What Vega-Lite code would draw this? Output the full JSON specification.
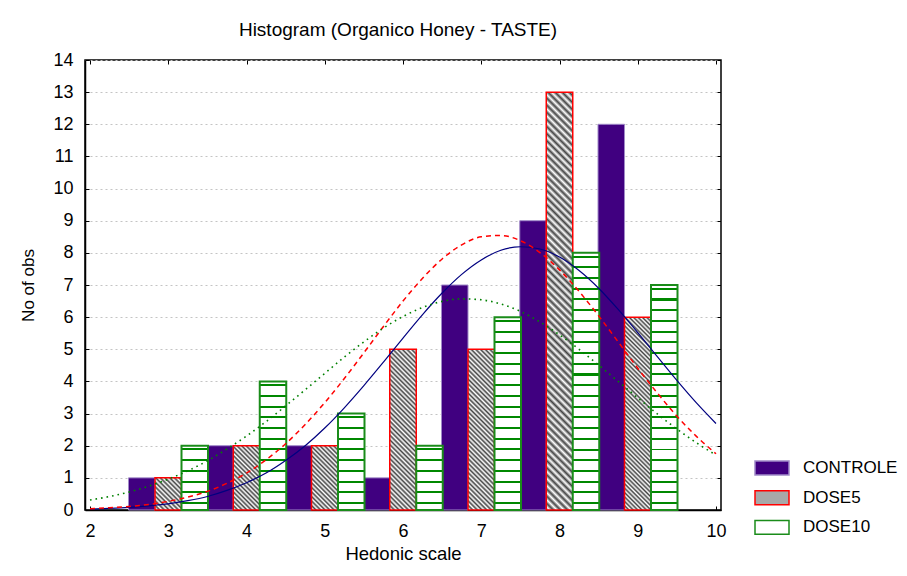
{
"$schema": "https://vega.github.io/schema/vega-lite/v6.json",
"width": 636, "height": 450,
"autosize": {"type": "none"},
"padding": {"left": 85, "top": 60, "right": 186, "bottom": 66},
"background": "#ffffff",
"title": {"text": "Histogram (Organico Honey - TASTE)", "font": "Liberation Sans", "fontSize": 19, "fontWeight": "normal", "color": "#000", "offset": 11, "dx": -5},
"config": {
  "view": {"stroke": "#000", "strokeWidth": 1.5},
  "axis": {"labelFont": "Liberation Sans", "labelFontSize": 18, "labelColor": "#000", "titleFont": "Liberation Sans", "titleFontSize": 17, "titleFontWeight": "normal", "titleColor": "#000", "tickColor": "#000", "domainColor": "#000", "domainWidth": 1.5}
},
"datasets": {
  "bars": [
    {"series": "CONTROLE", "score": 3, "count": 1},
    {"series": "CONTROLE", "score": 4, "count": 2},
    {"series": "CONTROLE", "score": 5, "count": 2},
    {"series": "CONTROLE", "score": 6, "count": 1},
    {"series": "CONTROLE", "score": 7, "count": 7},
    {"series": "CONTROLE", "score": 8, "count": 9},
    {"series": "CONTROLE", "score": 9, "count": 12},
    {"series": "DOSE5", "score": 3, "count": 1},
    {"series": "DOSE5", "score": 4, "count": 2},
    {"series": "DOSE5", "score": 5, "count": 2},
    {"series": "DOSE5", "score": 6, "count": 5},
    {"series": "DOSE5", "score": 7, "count": 5},
    {"series": "DOSE5", "score": 8, "count": 13},
    {"series": "DOSE5", "score": 9, "count": 6},
    {"series": "DOSE10", "score": 3, "count": 2},
    {"series": "DOSE10", "score": 4, "count": 4},
    {"series": "DOSE10", "score": 5, "count": 3},
    {"series": "DOSE10", "score": 6, "count": 2},
    {"series": "DOSE10", "score": 7, "count": 6},
    {"series": "DOSE10", "score": 8, "count": 8},
    {"series": "DOSE10", "score": 9, "count": 7}
  ],
  "ctrl": [
    {"x": 2, "y": 0.03}, {"x": 2.25, "y": 0.05}, {"x": 2.5, "y": 0.08}, {"x": 2.75, "y": 0.13}, {"x": 3, "y": 0.19}, {"x": 3.25, "y": 0.29}, {"x": 3.5, "y": 0.42}, {"x": 3.75, "y": 0.61}, {"x": 4, "y": 0.85}, {"x": 4.25, "y": 1.15}, {"x": 4.5, "y": 1.54}, {"x": 4.75, "y": 2.0}, {"x": 5, "y": 2.55}, {"x": 5.25, "y": 3.18}, {"x": 5.5, "y": 3.87}, {"x": 5.75, "y": 4.6}, {"x": 6, "y": 5.35}, {"x": 6.25, "y": 6.08}, {"x": 6.5, "y": 6.75}, {"x": 6.75, "y": 7.33}, {"x": 7, "y": 7.78}, {"x": 7.25, "y": 8.08}, {"x": 7.5, "y": 8.19}, {"x": 7.75, "y": 8.12}, {"x": 8, "y": 7.87}, {"x": 8.25, "y": 7.45}, {"x": 8.5, "y": 6.9}, {"x": 8.75, "y": 6.24}, {"x": 9, "y": 5.52}, {"x": 9.25, "y": 4.77}, {"x": 9.5, "y": 4.03}, {"x": 9.75, "y": 3.33}, {"x": 10, "y": 2.69}
  ],
  "d5": [
    {"x": 2, "y": 0.04}, {"x": 2.25, "y": 0.07}, {"x": 2.5, "y": 0.11}, {"x": 2.75, "y": 0.17}, {"x": 3, "y": 0.27}, {"x": 3.25, "y": 0.4}, {"x": 3.5, "y": 0.58}, {"x": 3.75, "y": 0.83}, {"x": 4, "y": 1.15}, {"x": 4.25, "y": 1.56}, {"x": 4.5, "y": 2.06}, {"x": 4.75, "y": 2.66}, {"x": 5, "y": 3.34}, {"x": 5.25, "y": 4.09}, {"x": 5.5, "y": 4.89}, {"x": 5.75, "y": 5.71}, {"x": 6, "y": 6.5}, {"x": 6.25, "y": 7.21}, {"x": 6.5, "y": 7.81}, {"x": 6.75, "y": 8.25}, {"x": 7, "y": 8.5}, {"x": 7.25, "y": 8.54}, {"x": 7.5, "y": 8.38}, {"x": 7.75, "y": 8.01}, {"x": 8, "y": 7.47}, {"x": 8.25, "y": 6.8}, {"x": 8.5, "y": 6.04}, {"x": 8.75, "y": 5.23}, {"x": 9, "y": 4.41}, {"x": 9.25, "y": 3.64}, {"x": 9.5, "y": 2.92}, {"x": 9.75, "y": 2.29}, {"x": 10, "y": 1.75}
  ],
  "d10": [
    {"x": 2, "y": 0.31}, {"x": 2.25, "y": 0.42}, {"x": 2.5, "y": 0.56}, {"x": 2.75, "y": 0.74}, {"x": 3, "y": 0.96}, {"x": 3.25, "y": 1.22}, {"x": 3.5, "y": 1.53}, {"x": 3.75, "y": 1.9}, {"x": 4, "y": 2.3}, {"x": 4.25, "y": 2.75}, {"x": 4.5, "y": 3.24}, {"x": 4.75, "y": 3.74}, {"x": 5, "y": 4.25}, {"x": 5.25, "y": 4.76}, {"x": 5.5, "y": 5.23}, {"x": 5.75, "y": 5.66}, {"x": 6, "y": 6.02}, {"x": 6.25, "y": 6.3}, {"x": 6.5, "y": 6.49}, {"x": 6.75, "y": 6.57}, {"x": 7, "y": 6.54}, {"x": 7.25, "y": 6.41}, {"x": 7.5, "y": 6.18}, {"x": 7.75, "y": 5.85}, {"x": 8, "y": 5.45}, {"x": 8.25, "y": 5.0}, {"x": 8.5, "y": 4.51}, {"x": 8.75, "y": 4.0}, {"x": 9, "y": 3.49}, {"x": 9.25, "y": 2.99}, {"x": 9.5, "y": 2.52}, {"x": 9.75, "y": 2.09}, {"x": 10, "y": 1.71}
  ]
},
"resolve": {"axis": {"x": "independent", "y": "independent"}},
"layer": [
  {
    "data": {"name": "bars"},
    "transform": [{"filter": "datum.series === 'CONTROLE'"}],
    "mark": {"type": "bar", "orient": "vertical", "width": 26.5, "xOffset": -26.5, "strokeWidth": 1},
    "encoding": {
      "x": {"field": "score", "type": "quantitative", "scale": {"domain": [2, 10], "nice": false, "zero": false},
            "axis": {"orient": "bottom", "values": [2, 3, 4, 5, 6, 7, 8, 9, 10], "title": "Hedonic scale", "titleFontSize": 18.5, "grid": false, "tickSize": -4, "labelPadding": 16, "titlePadding": 4, "labelFlush": false}},
      "y": {"field": "count", "type": "quantitative", "stack": null, "scale": {"domain": [0, 14], "nice": false},
            "axis": {"orient": "left", "values": [0, 1, 2, 3, 4, 5, 6, 7, 8, 9, 10, 11, 12, 13, 14], "title": "No of obs", "grid": true, "gridDash": [2, 3], "gridColor": "#c4c4c4", "tickSize": -4, "labelPadding": 16, "titlePadding": 15, "labelFlush": false}},
      "fill": {"field": "series", "type": "nominal", "scale": {"domain": ["CONTROLE", "DOSE5", "DOSE10"], "range": ["#400080", "#a8a8a8", "#ffffff"]},
               "legend": {"title": null, "orient": "none", "legendX": 677.5, "legendY": 398.5, "symbolType": "M-2,-0.82H2V0.82H-2Z", "symbolSize": 289, "symbolStrokeWidth": 1.5, "labelFont": "Liberation Sans", "labelFontSize": 17, "labelColor": "#000", "rowPadding": 8.7, "labelOffset": 21.5, "padding": 0}},
      "stroke": {"field": "series", "type": "nominal", "scale": {"domain": ["CONTROLE", "DOSE5", "DOSE10"], "range": ["#a08ac8", "#ff0000", "#1a8c1a"]},
               "legend": {"title": null, "orient": "none", "legendX": 677.5, "legendY": 398.5, "symbolType": "M-2,-0.82H2V0.82H-2Z", "symbolSize": 289, "symbolStrokeWidth": 1.5, "labelFont": "Liberation Sans", "labelFontSize": 17, "labelColor": "#000", "rowPadding": 8.7, "labelOffset": 21.5, "padding": 0}}
    }
  },
  {
    "data": {"name": "bars"},
    "transform": [{"filter": "datum.series === 'DOSE5'"}],
    "mark": {"type": "bar", "orient": "vertical", "width": 26.5, "xOffset": 0, "strokeWidth": 1.5},
    "encoding": {
      "x": {"field": "score", "type": "quantitative", "axis": null},
      "y": {"field": "count", "type": "quantitative", "stack": null, "axis": null},
      "fill": {"condition": [
        {"test": "datum.count == 1", "value": {"gradient": "linear", "x1": 0, "y1": 1, "x2": 0.8955, "y2": -0.0862, "stops": [{"offset":0,"color":"#444"},{"offset":0.04,"color":"#fff"},{"offset":0.08,"color":"#444"},{"offset":0.12,"color":"#fff"},{"offset":0.16,"color":"#444"},{"offset":0.2,"color":"#fff"},{"offset":0.24,"color":"#444"},{"offset":0.28,"color":"#fff"},{"offset":0.32,"color":"#444"},{"offset":0.36,"color":"#fff"},{"offset":0.4,"color":"#444"},{"offset":0.44,"color":"#fff"},{"offset":0.48,"color":"#444"},{"offset":0.52,"color":"#fff"},{"offset":0.56,"color":"#444"},{"offset":0.6,"color":"#fff"},{"offset":0.64,"color":"#444"},{"offset":0.68,"color":"#fff"},{"offset":0.72,"color":"#444"},{"offset":0.76,"color":"#fff"},{"offset":0.8,"color":"#444"},{"offset":0.84,"color":"#fff"},{"offset":0.88,"color":"#444"},{"offset":0.92,"color":"#fff"},{"offset":0.96,"color":"#444"},{"offset":1,"color":"#fff"}]}},
        {"test": "datum.count == 2", "value": {"gradient": "linear", "x1": 0, "y1": 1, "x2": 0.4976, "y2": -0.2072, "stops": [{"offset":0,"color":"#444"},{"offset":0.025,"color":"#fff"},{"offset":0.05,"color":"#444"},{"offset":0.075,"color":"#fff"},{"offset":0.1,"color":"#444"},{"offset":0.125,"color":"#fff"},{"offset":0.15,"color":"#444"},{"offset":0.175,"color":"#fff"},{"offset":0.2,"color":"#444"},{"offset":0.225,"color":"#fff"},{"offset":0.25,"color":"#444"},{"offset":0.275,"color":"#fff"},{"offset":0.3,"color":"#444"},{"offset":0.325,"color":"#fff"},{"offset":0.35,"color":"#444"},{"offset":0.375,"color":"#fff"},{"offset":0.4,"color":"#444"},{"offset":0.425,"color":"#fff"},{"offset":0.45,"color":"#444"},{"offset":0.475,"color":"#fff"},{"offset":0.5,"color":"#444"},{"offset":0.525,"color":"#fff"},{"offset":0.55,"color":"#444"},{"offset":0.575,"color":"#fff"},{"offset":0.6,"color":"#444"},{"offset":0.625,"color":"#fff"},{"offset":0.65,"color":"#444"},{"offset":0.675,"color":"#fff"},{"offset":0.7,"color":"#444"},{"offset":0.725,"color":"#fff"},{"offset":0.75,"color":"#444"},{"offset":0.775,"color":"#fff"},{"offset":0.8,"color":"#444"},{"offset":0.825,"color":"#fff"},{"offset":0.85,"color":"#444"},{"offset":0.875,"color":"#fff"},{"offset":0.9,"color":"#444"},{"offset":0.925,"color":"#fff"},{"offset":0.95,"color":"#444"},{"offset":0.975,"color":"#fff"},{"offset":1,"color":"#444"}]}},
        {"test": "datum.count == 5", "value": {"gradient": "linear", "x1": 0, "y1": 1, "x2": 0.187, "y2": -0.134, "stops": [{"offset":0,"color":"#444"},{"offset":0.0125,"color":"#fff"},{"offset":0.025,"color":"#444"},{"offset":0.0375,"color":"#fff"},{"offset":0.05,"color":"#444"},{"offset":0.0625,"color":"#fff"},{"offset":0.075,"color":"#444"},{"offset":0.0875,"color":"#fff"},{"offset":0.1,"color":"#444"},{"offset":0.1125,"color":"#fff"},{"offset":0.125,"color":"#444"},{"offset":0.1375,"color":"#fff"},{"offset":0.15,"color":"#444"},{"offset":0.1625,"color":"#fff"},{"offset":0.175,"color":"#444"},{"offset":0.1875,"color":"#fff"},{"offset":0.2,"color":"#444"},{"offset":0.2125,"color":"#fff"},{"offset":0.225,"color":"#444"},{"offset":0.2375,"color":"#fff"},{"offset":0.25,"color":"#444"},{"offset":0.2625,"color":"#fff"},{"offset":0.275,"color":"#444"},{"offset":0.2875,"color":"#fff"},{"offset":0.3,"color":"#444"},{"offset":0.3125,"color":"#fff"},{"offset":0.325,"color":"#444"},{"offset":0.3375,"color":"#fff"},{"offset":0.35,"color":"#444"},{"offset":0.3625,"color":"#fff"},{"offset":0.375,"color":"#444"},{"offset":0.3875,"color":"#fff"},{"offset":0.4,"color":"#444"},{"offset":0.4125,"color":"#fff"},{"offset":0.425,"color":"#444"},{"offset":0.4375,"color":"#fff"},{"offset":0.45,"color":"#444"},{"offset":0.4625,"color":"#fff"},{"offset":0.475,"color":"#444"},{"offset":0.4875,"color":"#fff"},{"offset":0.5,"color":"#444"},{"offset":0.5125,"color":"#fff"},{"offset":0.525,"color":"#444"},{"offset":0.5375,"color":"#fff"},{"offset":0.55,"color":"#444"},{"offset":0.5625,"color":"#fff"},{"offset":0.575,"color":"#444"},{"offset":0.5875,"color":"#fff"},{"offset":0.6,"color":"#444"},{"offset":0.6125,"color":"#fff"},{"offset":0.625,"color":"#444"},{"offset":0.6375,"color":"#fff"},{"offset":0.65,"color":"#444"},{"offset":0.6625,"color":"#fff"},{"offset":0.675,"color":"#444"},{"offset":0.6875,"color":"#fff"},{"offset":0.7,"color":"#444"},{"offset":0.7125,"color":"#fff"},{"offset":0.725,"color":"#444"},{"offset":0.7375,"color":"#fff"},{"offset":0.75,"color":"#444"},{"offset":0.7625,"color":"#fff"},{"offset":0.775,"color":"#444"},{"offset":0.7875,"color":"#fff"},{"offset":0.8,"color":"#444"},{"offset":0.8125,"color":"#fff"},{"offset":0.825,"color":"#444"},{"offset":0.8375,"color":"#fff"},{"offset":0.85,"color":"#444"},{"offset":0.8625,"color":"#fff"},{"offset":0.875,"color":"#444"},{"offset":0.8875,"color":"#fff"},{"offset":0.9,"color":"#444"},{"offset":0.9125,"color":"#fff"},{"offset":0.925,"color":"#444"},{"offset":0.9375,"color":"#fff"},{"offset":0.95,"color":"#444"},{"offset":0.9625,"color":"#fff"},{"offset":0.975,"color":"#444"},{"offset":0.9875,"color":"#fff"},{"offset":1,"color":"#444"}]}},
        {"test": "datum.count == 6", "value": {"gradient": "linear", "x1": 0, "y1": 1, "x2": 0.1534, "y2": -0.1163, "stops": [{"offset":0,"color":"#444"},{"offset":0.01,"color":"#fff"},{"offset":0.02,"color":"#444"},{"offset":0.03,"color":"#fff"},{"offset":0.04,"color":"#444"},{"offset":0.05,"color":"#fff"},{"offset":0.06,"color":"#444"},{"offset":0.07,"color":"#fff"},{"offset":0.08,"color":"#444"},{"offset":0.09,"color":"#fff"},{"offset":0.1,"color":"#444"},{"offset":0.11,"color":"#fff"},{"offset":0.12,"color":"#444"},{"offset":0.13,"color":"#fff"},{"offset":0.14,"color":"#444"},{"offset":0.15,"color":"#fff"},{"offset":0.16,"color":"#444"},{"offset":0.17,"color":"#fff"},{"offset":0.18,"color":"#444"},{"offset":0.19,"color":"#fff"},{"offset":0.2,"color":"#444"},{"offset":0.21,"color":"#fff"},{"offset":0.22,"color":"#444"},{"offset":0.23,"color":"#fff"},{"offset":0.24,"color":"#444"},{"offset":0.25,"color":"#fff"},{"offset":0.26,"color":"#444"},{"offset":0.27,"color":"#fff"},{"offset":0.28,"color":"#444"},{"offset":0.29,"color":"#fff"},{"offset":0.3,"color":"#444"},{"offset":0.31,"color":"#fff"},{"offset":0.32,"color":"#444"},{"offset":0.33,"color":"#fff"},{"offset":0.34,"color":"#444"},{"offset":0.35,"color":"#fff"},{"offset":0.36,"color":"#444"},{"offset":0.37,"color":"#fff"},{"offset":0.38,"color":"#444"},{"offset":0.39,"color":"#fff"},{"offset":0.4,"color":"#444"},{"offset":0.41,"color":"#fff"},{"offset":0.42,"color":"#444"},{"offset":0.43,"color":"#fff"},{"offset":0.44,"color":"#444"},{"offset":0.45,"color":"#fff"},{"offset":0.46,"color":"#444"},{"offset":0.47,"color":"#fff"},{"offset":0.48,"color":"#444"},{"offset":0.49,"color":"#fff"},{"offset":0.5,"color":"#444"},{"offset":0.51,"color":"#fff"},{"offset":0.52,"color":"#444"},{"offset":0.53,"color":"#fff"},{"offset":0.54,"color":"#444"},{"offset":0.55,"color":"#fff"},{"offset":0.56,"color":"#444"},{"offset":0.57,"color":"#fff"},{"offset":0.58,"color":"#444"},{"offset":0.59,"color":"#fff"},{"offset":0.6,"color":"#444"},{"offset":0.61,"color":"#fff"},{"offset":0.62,"color":"#444"},{"offset":0.63,"color":"#fff"},{"offset":0.64,"color":"#444"},{"offset":0.65,"color":"#fff"},{"offset":0.66,"color":"#444"},{"offset":0.67,"color":"#fff"},{"offset":0.68,"color":"#444"},{"offset":0.69,"color":"#fff"},{"offset":0.7,"color":"#444"},{"offset":0.71,"color":"#fff"},{"offset":0.72,"color":"#444"},{"offset":0.73,"color":"#fff"},{"offset":0.74,"color":"#444"},{"offset":0.75,"color":"#fff"},{"offset":0.76,"color":"#444"},{"offset":0.77,"color":"#fff"},{"offset":0.78,"color":"#444"},{"offset":0.79,"color":"#fff"},{"offset":0.8,"color":"#444"},{"offset":0.81,"color":"#fff"},{"offset":0.82,"color":"#444"},{"offset":0.83,"color":"#fff"},{"offset":0.84,"color":"#444"},{"offset":0.85,"color":"#fff"},{"offset":0.86,"color":"#444"},{"offset":0.87,"color":"#fff"},{"offset":0.88,"color":"#444"},{"offset":0.89,"color":"#fff"},{"offset":0.9,"color":"#444"},{"offset":0.91,"color":"#fff"},{"offset":0.92,"color":"#444"},{"offset":0.93,"color":"#fff"},{"offset":0.94,"color":"#444"},{"offset":0.95,"color":"#fff"},{"offset":0.96,"color":"#444"},{"offset":0.97,"color":"#fff"},{"offset":0.98,"color":"#444"},{"offset":0.99,"color":"#fff"},{"offset":1,"color":"#444"}]}},
        {"test": "datum.count == 13", "value": {"gradient": "linear", "x1": 0, "y1": 1, "x2": 0.0672, "y2": -0.0592, "stops": [{"offset":0,"color":"#444"},{"offset":0.008,"color":"#fff"},{"offset":0.016,"color":"#444"},{"offset":0.024,"color":"#fff"},{"offset":0.032,"color":"#444"},{"offset":0.04,"color":"#fff"},{"offset":0.048,"color":"#444"},{"offset":0.056,"color":"#fff"},{"offset":0.064,"color":"#444"},{"offset":0.072,"color":"#fff"},{"offset":0.08,"color":"#444"},{"offset":0.088,"color":"#fff"},{"offset":0.096,"color":"#444"},{"offset":0.104,"color":"#fff"},{"offset":0.112,"color":"#444"},{"offset":0.12,"color":"#fff"},{"offset":0.128,"color":"#444"},{"offset":0.136,"color":"#fff"},{"offset":0.144,"color":"#444"},{"offset":0.152,"color":"#fff"},{"offset":0.16,"color":"#444"},{"offset":0.168,"color":"#fff"},{"offset":0.176,"color":"#444"},{"offset":0.184,"color":"#fff"},{"offset":0.192,"color":"#444"},{"offset":0.2,"color":"#fff"},{"offset":0.208,"color":"#444"},{"offset":0.216,"color":"#fff"},{"offset":0.224,"color":"#444"},{"offset":0.232,"color":"#fff"},{"offset":0.24,"color":"#444"},{"offset":0.248,"color":"#fff"},{"offset":0.256,"color":"#444"},{"offset":0.264,"color":"#fff"},{"offset":0.272,"color":"#444"},{"offset":0.28,"color":"#fff"},{"offset":0.288,"color":"#444"},{"offset":0.296,"color":"#fff"},{"offset":0.304,"color":"#444"},{"offset":0.312,"color":"#fff"},{"offset":0.32,"color":"#444"},{"offset":0.328,"color":"#fff"},{"offset":0.336,"color":"#444"},{"offset":0.344,"color":"#fff"},{"offset":0.352,"color":"#444"},{"offset":0.36,"color":"#fff"},{"offset":0.368,"color":"#444"},{"offset":0.376,"color":"#fff"},{"offset":0.384,"color":"#444"},{"offset":0.392,"color":"#fff"},{"offset":0.4,"color":"#444"},{"offset":0.408,"color":"#fff"},{"offset":0.416,"color":"#444"},{"offset":0.424,"color":"#fff"},{"offset":0.432,"color":"#444"},{"offset":0.44,"color":"#fff"},{"offset":0.448,"color":"#444"},{"offset":0.456,"color":"#fff"},{"offset":0.464,"color":"#444"},{"offset":0.472,"color":"#fff"},{"offset":0.48,"color":"#444"},{"offset":0.488,"color":"#fff"},{"offset":0.496,"color":"#444"},{"offset":0.504,"color":"#fff"},{"offset":0.512,"color":"#444"},{"offset":0.52,"color":"#fff"},{"offset":0.528,"color":"#444"},{"offset":0.536,"color":"#fff"},{"offset":0.544,"color":"#444"},{"offset":0.552,"color":"#fff"},{"offset":0.56,"color":"#444"},{"offset":0.568,"color":"#fff"},{"offset":0.576,"color":"#444"},{"offset":0.584,"color":"#fff"},{"offset":0.592,"color":"#444"},{"offset":0.6,"color":"#fff"},{"offset":0.608,"color":"#444"},{"offset":0.616,"color":"#fff"},{"offset":0.624,"color":"#444"},{"offset":0.632,"color":"#fff"},{"offset":0.64,"color":"#444"},{"offset":0.648,"color":"#fff"},{"offset":0.656,"color":"#444"},{"offset":0.664,"color":"#fff"},{"offset":0.672,"color":"#444"},{"offset":0.68,"color":"#fff"},{"offset":0.688,"color":"#444"},{"offset":0.696,"color":"#fff"},{"offset":0.704,"color":"#444"},{"offset":0.712,"color":"#fff"},{"offset":0.72,"color":"#444"},{"offset":0.728,"color":"#fff"},{"offset":0.736,"color":"#444"},{"offset":0.744,"color":"#fff"},{"offset":0.752,"color":"#444"},{"offset":0.76,"color":"#fff"},{"offset":0.768,"color":"#444"},{"offset":0.776,"color":"#fff"},{"offset":0.784,"color":"#444"},{"offset":0.792,"color":"#fff"},{"offset":0.8,"color":"#444"},{"offset":0.808,"color":"#fff"},{"offset":0.816,"color":"#444"},{"offset":0.824,"color":"#fff"},{"offset":0.832,"color":"#444"},{"offset":0.84,"color":"#fff"},{"offset":0.848,"color":"#444"},{"offset":0.856,"color":"#fff"},{"offset":0.864,"color":"#444"},{"offset":0.872,"color":"#fff"},{"offset":0.88,"color":"#444"},{"offset":0.888,"color":"#fff"},{"offset":0.896,"color":"#444"},{"offset":0.904,"color":"#fff"},{"offset":0.912,"color":"#444"},{"offset":0.92,"color":"#fff"},{"offset":0.928,"color":"#444"},{"offset":0.936,"color":"#fff"},{"offset":0.944,"color":"#444"},{"offset":0.952,"color":"#fff"},{"offset":0.96,"color":"#444"},{"offset":0.968,"color":"#fff"},{"offset":0.976,"color":"#444"},{"offset":0.984,"color":"#fff"},{"offset":0.992,"color":"#444"},{"offset":1,"color":"#fff"}]}}
      ], "field": "series", "type": "nominal"},
      "stroke": {"field": "series", "type": "nominal"}
    }
  },
  {
    "data": {"name": "bars"},
    "transform": [{"filter": "datum.series === 'DOSE10'"}],
    "mark": {"type": "bar", "orient": "vertical", "width": 26.5, "xOffset": 26.5, "strokeWidth": 2},
    "encoding": {
      "x": {"field": "score", "type": "quantitative", "axis": null},
      "y": {"field": "count", "type": "quantitative", "stack": null, "axis": null},
      "fill": {"condition": [
        {"test": "datum.count == 2", "value": {"gradient": "linear", "x1": 0, "y1": 1, "x2": 0, "y2": 0, "stops": [{"offset":0.092,"color":"#fff"},{"offset":0.092,"color":"#080"},{"offset":0.124,"color":"#080"},{"offset":0.124,"color":"#fff"},{"offset":0.259,"color":"#fff"},{"offset":0.259,"color":"#080"},{"offset":0.291,"color":"#080"},{"offset":0.291,"color":"#fff"},{"offset":0.426,"color":"#fff"},{"offset":0.426,"color":"#080"},{"offset":0.458,"color":"#080"},{"offset":0.458,"color":"#fff"},{"offset":0.592,"color":"#fff"},{"offset":0.592,"color":"#080"},{"offset":0.624,"color":"#080"},{"offset":0.624,"color":"#fff"},{"offset":0.759,"color":"#fff"},{"offset":0.759,"color":"#080"},{"offset":0.791,"color":"#080"},{"offset":0.791,"color":"#fff"},{"offset":0.926,"color":"#fff"},{"offset":0.926,"color":"#080"},{"offset":0.958,"color":"#080"},{"offset":0.958,"color":"#fff"}]}},
        {"test": "datum.count == 3", "value": {"gradient": "linear", "x1": 0, "y1": 1, "x2": 0, "y2": 0, "stops": [{"offset":0.062,"color":"#fff"},{"offset":0.062,"color":"#080"},{"offset":0.082,"color":"#080"},{"offset":0.082,"color":"#fff"},{"offset":0.173,"color":"#fff"},{"offset":0.173,"color":"#080"},{"offset":0.193,"color":"#080"},{"offset":0.193,"color":"#fff"},{"offset":0.284,"color":"#fff"},{"offset":0.284,"color":"#080"},{"offset":0.304,"color":"#080"},{"offset":0.304,"color":"#fff"},{"offset":0.396,"color":"#fff"},{"offset":0.396,"color":"#080"},{"offset":0.416,"color":"#080"},{"offset":0.416,"color":"#fff"},{"offset":0.507,"color":"#fff"},{"offset":0.507,"color":"#080"},{"offset":0.527,"color":"#080"},{"offset":0.527,"color":"#fff"},{"offset":0.618,"color":"#fff"},{"offset":0.618,"color":"#080"},{"offset":0.638,"color":"#080"},{"offset":0.638,"color":"#fff"},{"offset":0.729,"color":"#fff"},{"offset":0.729,"color":"#080"},{"offset":0.749,"color":"#080"},{"offset":0.749,"color":"#fff"},{"offset":0.84,"color":"#fff"},{"offset":0.84,"color":"#080"},{"offset":0.86,"color":"#080"},{"offset":0.86,"color":"#fff"},{"offset":0.951,"color":"#fff"},{"offset":0.951,"color":"#080"},{"offset":0.971,"color":"#080"},{"offset":0.971,"color":"#fff"}]}},
        {"test": "datum.count == 4", "value": {"gradient": "linear", "x1": 0, "y1": 1, "x2": 0, "y2": 0, "stops": [{"offset":0.046,"color":"#fff"},{"offset":0.046,"color":"#080"},{"offset":0.062,"color":"#080"},{"offset":0.062,"color":"#fff"},{"offset":0.13,"color":"#fff"},{"offset":0.13,"color":"#080"},{"offset":0.146,"color":"#080"},{"offset":0.146,"color":"#fff"},{"offset":0.213,"color":"#fff"},{"offset":0.213,"color":"#080"},{"offset":0.229,"color":"#080"},{"offset":0.229,"color":"#fff"},{"offset":0.296,"color":"#fff"},{"offset":0.296,"color":"#080"},{"offset":0.312,"color":"#080"},{"offset":0.312,"color":"#fff"},{"offset":0.38,"color":"#fff"},{"offset":0.38,"color":"#080"},{"offset":0.396,"color":"#080"},{"offset":0.396,"color":"#fff"},{"offset":0.463,"color":"#fff"},{"offset":0.463,"color":"#080"},{"offset":0.479,"color":"#080"},{"offset":0.479,"color":"#fff"},{"offset":0.546,"color":"#fff"},{"offset":0.546,"color":"#080"},{"offset":0.562,"color":"#080"},{"offset":0.562,"color":"#fff"},{"offset":0.63,"color":"#fff"},{"offset":0.63,"color":"#080"},{"offset":0.646,"color":"#080"},{"offset":0.646,"color":"#fff"},{"offset":0.713,"color":"#fff"},{"offset":0.713,"color":"#080"},{"offset":0.729,"color":"#080"},{"offset":0.729,"color":"#fff"},{"offset":0.796,"color":"#fff"},{"offset":0.796,"color":"#080"},{"offset":0.812,"color":"#080"},{"offset":0.812,"color":"#fff"},{"offset":0.88,"color":"#fff"},{"offset":0.88,"color":"#080"},{"offset":0.896,"color":"#080"},{"offset":0.896,"color":"#fff"},{"offset":0.963,"color":"#fff"},{"offset":0.963,"color":"#080"},{"offset":0.979,"color":"#080"},{"offset":0.979,"color":"#fff"}]}},
        {"test": "datum.count == 6", "value": {"gradient": "linear", "x1": 0, "y1": 1, "x2": 0, "y2": 0, "stops": [{"offset":0.031,"color":"#fff"},{"offset":0.031,"color":"#080"},{"offset":0.041,"color":"#080"},{"offset":0.041,"color":"#fff"},{"offset":0.087,"color":"#fff"},{"offset":0.087,"color":"#080"},{"offset":0.097,"color":"#080"},{"offset":0.097,"color":"#fff"},{"offset":0.142,"color":"#fff"},{"offset":0.142,"color":"#080"},{"offset":0.152,"color":"#080"},{"offset":0.152,"color":"#fff"},{"offset":0.198,"color":"#fff"},{"offset":0.198,"color":"#080"},{"offset":0.208,"color":"#080"},{"offset":0.208,"color":"#fff"},{"offset":0.253,"color":"#fff"},{"offset":0.253,"color":"#080"},{"offset":0.263,"color":"#080"},{"offset":0.263,"color":"#fff"},{"offset":0.309,"color":"#fff"},{"offset":0.309,"color":"#080"},{"offset":0.319,"color":"#080"},{"offset":0.319,"color":"#fff"},{"offset":0.364,"color":"#fff"},{"offset":0.364,"color":"#080"},{"offset":0.374,"color":"#080"},{"offset":0.374,"color":"#fff"},{"offset":0.42,"color":"#fff"},{"offset":0.42,"color":"#080"},{"offset":0.43,"color":"#080"},{"offset":0.43,"color":"#fff"},{"offset":0.476,"color":"#fff"},{"offset":0.476,"color":"#080"},{"offset":0.486,"color":"#080"},{"offset":0.486,"color":"#fff"},{"offset":0.531,"color":"#fff"},{"offset":0.531,"color":"#080"},{"offset":0.541,"color":"#080"},{"offset":0.541,"color":"#fff"},{"offset":0.587,"color":"#fff"},{"offset":0.587,"color":"#080"},{"offset":0.597,"color":"#080"},{"offset":0.597,"color":"#fff"},{"offset":0.642,"color":"#fff"},{"offset":0.642,"color":"#080"},{"offset":0.652,"color":"#080"},{"offset":0.652,"color":"#fff"},{"offset":0.698,"color":"#fff"},{"offset":0.698,"color":"#080"},{"offset":0.708,"color":"#080"},{"offset":0.708,"color":"#fff"},{"offset":0.753,"color":"#fff"},{"offset":0.753,"color":"#080"},{"offset":0.763,"color":"#080"},{"offset":0.763,"color":"#fff"},{"offset":0.809,"color":"#fff"},{"offset":0.809,"color":"#080"},{"offset":0.819,"color":"#080"},{"offset":0.819,"color":"#fff"},{"offset":0.864,"color":"#fff"},{"offset":0.864,"color":"#080"},{"offset":0.874,"color":"#080"},{"offset":0.874,"color":"#fff"},{"offset":0.92,"color":"#fff"},{"offset":0.92,"color":"#080"},{"offset":0.93,"color":"#080"},{"offset":0.93,"color":"#fff"},{"offset":0.976,"color":"#fff"},{"offset":0.976,"color":"#080"},{"offset":0.986,"color":"#080"},{"offset":0.986,"color":"#fff"}]}},
        {"test": "datum.count == 7", "value": {"gradient": "linear", "x1": 0, "y1": 1, "x2": 0, "y2": 0, "stops": [{"offset":0.027,"color":"#fff"},{"offset":0.027,"color":"#080"},{"offset":0.035,"color":"#080"},{"offset":0.035,"color":"#fff"},{"offset":0.074,"color":"#fff"},{"offset":0.074,"color":"#080"},{"offset":0.083,"color":"#080"},{"offset":0.083,"color":"#fff"},{"offset":0.122,"color":"#fff"},{"offset":0.122,"color":"#080"},{"offset":0.131,"color":"#080"},{"offset":0.131,"color":"#fff"},{"offset":0.169,"color":"#fff"},{"offset":0.169,"color":"#080"},{"offset":0.178,"color":"#080"},{"offset":0.178,"color":"#fff"},{"offset":0.217,"color":"#fff"},{"offset":0.217,"color":"#080"},{"offset":0.226,"color":"#080"},{"offset":0.226,"color":"#fff"},{"offset":0.265,"color":"#fff"},{"offset":0.265,"color":"#080"},{"offset":0.273,"color":"#080"},{"offset":0.273,"color":"#fff"},{"offset":0.312,"color":"#fff"},{"offset":0.312,"color":"#080"},{"offset":0.321,"color":"#080"},{"offset":0.321,"color":"#fff"},{"offset":0.36,"color":"#fff"},{"offset":0.36,"color":"#080"},{"offset":0.369,"color":"#080"},{"offset":0.369,"color":"#fff"},{"offset":0.407,"color":"#fff"},{"offset":0.407,"color":"#080"},{"offset":0.416,"color":"#080"},{"offset":0.416,"color":"#fff"},{"offset":0.455,"color":"#fff"},{"offset":0.455,"color":"#080"},{"offset":0.464,"color":"#080"},{"offset":0.464,"color":"#fff"},{"offset":0.503,"color":"#fff"},{"offset":0.503,"color":"#080"},{"offset":0.512,"color":"#080"},{"offset":0.512,"color":"#fff"},{"offset":0.55,"color":"#fff"},{"offset":0.55,"color":"#080"},{"offset":0.559,"color":"#080"},{"offset":0.559,"color":"#fff"},{"offset":0.598,"color":"#fff"},{"offset":0.598,"color":"#080"},{"offset":0.607,"color":"#080"},{"offset":0.607,"color":"#fff"},{"offset":0.646,"color":"#fff"},{"offset":0.646,"color":"#080"},{"offset":0.654,"color":"#080"},{"offset":0.654,"color":"#fff"},{"offset":0.693,"color":"#fff"},{"offset":0.693,"color":"#080"},{"offset":0.702,"color":"#080"},{"offset":0.702,"color":"#fff"},{"offset":0.741,"color":"#fff"},{"offset":0.741,"color":"#080"},{"offset":0.75,"color":"#080"},{"offset":0.75,"color":"#fff"},{"offset":0.788,"color":"#fff"},{"offset":0.788,"color":"#080"},{"offset":0.797,"color":"#080"},{"offset":0.797,"color":"#fff"},{"offset":0.836,"color":"#fff"},{"offset":0.836,"color":"#080"},{"offset":0.845,"color":"#080"},{"offset":0.845,"color":"#fff"},{"offset":0.884,"color":"#fff"},{"offset":0.884,"color":"#080"},{"offset":0.893,"color":"#080"},{"offset":0.893,"color":"#fff"},{"offset":0.931,"color":"#fff"},{"offset":0.931,"color":"#080"},{"offset":0.94,"color":"#080"},{"offset":0.94,"color":"#fff"},{"offset":0.979,"color":"#fff"},{"offset":0.979,"color":"#080"},{"offset":0.988,"color":"#080"},{"offset":0.988,"color":"#fff"}]}},
        {"test": "datum.count == 8", "value": {"gradient": "linear", "x1": 0, "y1": 1, "x2": 0, "y2": 0, "stops": [{"offset":0.023,"color":"#fff"},{"offset":0.023,"color":"#080"},{"offset":0.031,"color":"#080"},{"offset":0.031,"color":"#fff"},{"offset":0.065,"color":"#fff"},{"offset":0.065,"color":"#080"},{"offset":0.073,"color":"#080"},{"offset":0.073,"color":"#fff"},{"offset":0.106,"color":"#fff"},{"offset":0.106,"color":"#080"},{"offset":0.114,"color":"#080"},{"offset":0.114,"color":"#fff"},{"offset":0.148,"color":"#fff"},{"offset":0.148,"color":"#080"},{"offset":0.156,"color":"#080"},{"offset":0.156,"color":"#fff"},{"offset":0.19,"color":"#fff"},{"offset":0.19,"color":"#080"},{"offset":0.198,"color":"#080"},{"offset":0.198,"color":"#fff"},{"offset":0.231,"color":"#fff"},{"offset":0.231,"color":"#080"},{"offset":0.239,"color":"#080"},{"offset":0.239,"color":"#fff"},{"offset":0.273,"color":"#fff"},{"offset":0.273,"color":"#080"},{"offset":0.281,"color":"#080"},{"offset":0.281,"color":"#fff"},{"offset":0.315,"color":"#fff"},{"offset":0.315,"color":"#080"},{"offset":0.323,"color":"#080"},{"offset":0.323,"color":"#fff"},{"offset":0.356,"color":"#fff"},{"offset":0.356,"color":"#080"},{"offset":0.364,"color":"#080"},{"offset":0.364,"color":"#fff"},{"offset":0.398,"color":"#fff"},{"offset":0.398,"color":"#080"},{"offset":0.406,"color":"#080"},{"offset":0.406,"color":"#fff"},{"offset":0.44,"color":"#fff"},{"offset":0.44,"color":"#080"},{"offset":0.448,"color":"#080"},{"offset":0.448,"color":"#fff"},{"offset":0.481,"color":"#fff"},{"offset":0.481,"color":"#080"},{"offset":0.489,"color":"#080"},{"offset":0.489,"color":"#fff"},{"offset":0.523,"color":"#fff"},{"offset":0.523,"color":"#080"},{"offset":0.531,"color":"#080"},{"offset":0.531,"color":"#fff"},{"offset":0.565,"color":"#fff"},{"offset":0.565,"color":"#080"},{"offset":0.573,"color":"#080"},{"offset":0.573,"color":"#fff"},{"offset":0.606,"color":"#fff"},{"offset":0.606,"color":"#080"},{"offset":0.614,"color":"#080"},{"offset":0.614,"color":"#fff"},{"offset":0.648,"color":"#fff"},{"offset":0.648,"color":"#080"},{"offset":0.656,"color":"#080"},{"offset":0.656,"color":"#fff"},{"offset":0.69,"color":"#fff"},{"offset":0.69,"color":"#080"},{"offset":0.698,"color":"#080"},{"offset":0.698,"color":"#fff"},{"offset":0.731,"color":"#fff"},{"offset":0.731,"color":"#080"},{"offset":0.739,"color":"#080"},{"offset":0.739,"color":"#fff"},{"offset":0.773,"color":"#fff"},{"offset":0.773,"color":"#080"},{"offset":0.781,"color":"#080"},{"offset":0.781,"color":"#fff"},{"offset":0.815,"color":"#fff"},{"offset":0.815,"color":"#080"},{"offset":0.823,"color":"#080"},{"offset":0.823,"color":"#fff"},{"offset":0.856,"color":"#fff"},{"offset":0.856,"color":"#080"},{"offset":0.864,"color":"#080"},{"offset":0.864,"color":"#fff"},{"offset":0.898,"color":"#fff"},{"offset":0.898,"color":"#080"},{"offset":0.906,"color":"#080"},{"offset":0.906,"color":"#fff"},{"offset":0.94,"color":"#fff"},{"offset":0.94,"color":"#080"},{"offset":0.948,"color":"#080"},{"offset":0.948,"color":"#fff"},{"offset":0.981,"color":"#fff"},{"offset":0.981,"color":"#080"},{"offset":0.989,"color":"#080"},{"offset":0.989,"color":"#fff"}]}}
      ], "field": "series", "type": "nominal"},
      "stroke": {"field": "series", "type": "nominal"}
    }
  },
  {
    "data": {"name": "ctrl"},
    "mark": {"type": "line", "interpolate": "monotone", "stroke": "#000080", "strokeWidth": 1.2},
    "encoding": {
      "x": {"field": "x", "type": "quantitative", "axis": {"orient": "top", "values": [2, 3, 4, 5, 6, 7, 8, 9, 10], "labels": false, "title": null, "grid": false, "domain": false, "tickSize": -4}},
      "y": {"field": "y", "type": "quantitative", "axis": {"orient": "right", "values": [0, 1, 2, 3, 4, 5, 6, 7, 8, 9, 10, 11, 12, 13, 14], "labels": false, "title": null, "grid": false, "domain": false, "tickSize": -4}}
    }
  },
  {
    "data": {"name": "d5"},
    "mark": {"type": "line", "interpolate": "monotone", "stroke": "#ff0000", "strokeWidth": 1.5, "strokeDash": [5, 4]},
    "encoding": {
      "x": {"field": "x", "type": "quantitative", "axis": null},
      "y": {"field": "y", "type": "quantitative", "axis": null}
    }
  },
  {
    "data": {"name": "d10"},
    "mark": {"type": "line", "interpolate": "monotone", "stroke": "#008000", "strokeWidth": 1.6, "strokeDash": [1.6, 4]},
    "encoding": {
      "x": {"field": "x", "type": "quantitative", "axis": null},
      "y": {"field": "y", "type": "quantitative", "axis": null}
    }
  }
]
}
